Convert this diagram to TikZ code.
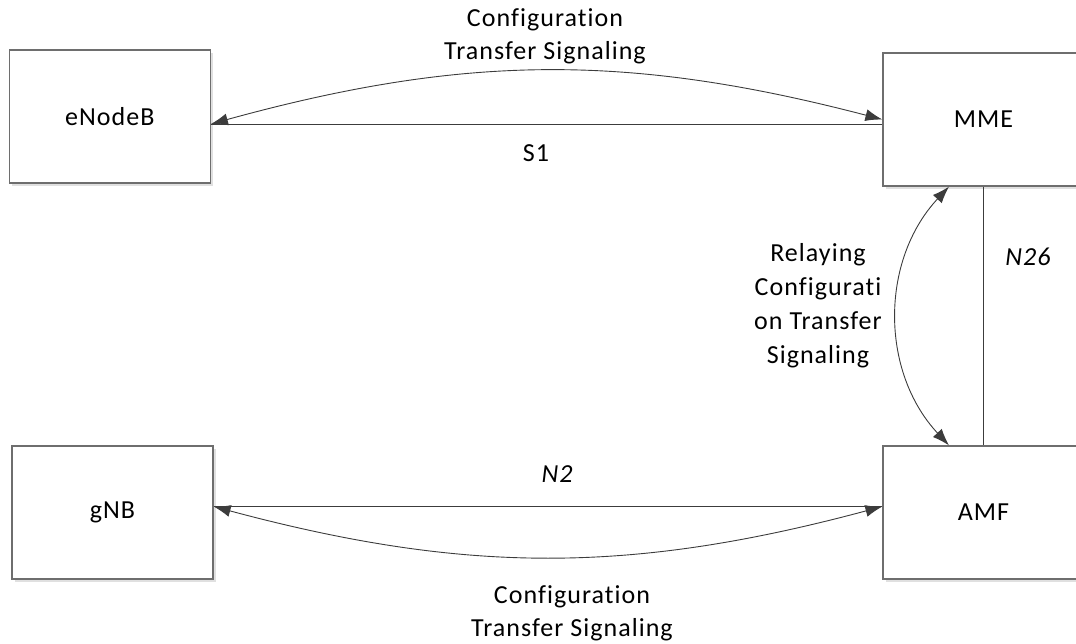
\documentclass[tikz,border=0pt]{standalone}
\usepackage{fontspec}
\setmainfont{Carlito}[LetterSpace=4, Ligatures=NoCommon]
\usepackage{xcolor}
\usepackage{tikz}
\usetikzlibrary{positioning,shadows,arrows.meta}
\definecolor{nfborder}{HTML}{6E6E6E}
\definecolor{nfline}{HTML}{3C3C3C}

\begin{document}
\begin{tikzpicture}[x=1pt, y=1pt,
  nfbox/.style={draw=nfborder, line width=1.2pt, fill=white, minimum width=201pt, minimum height=133pt, inner sep=0pt, font=\fontsize{26}{33}\selectfont, drop shadow={shadow xshift=3pt, shadow yshift=-3pt, fill=black!12, opacity=1}},
  iflink/.style={nfline, line width=0.9pt},
  sigarrow/.style={{Latex[length=17pt,width=12pt]}-{Latex[length=17pt,width=12pt]}, nfline, line width=0.9pt},
  iflabel/.style={font=\fontsize{26}{33}\selectfont\itshape, inner sep=0pt},
  siglabel/.style={font=\fontsize{26}{33}\selectfont, align=center, inner sep=0pt},
]
\clip (0,0) rectangle (1076,-644);
\node[nfbox] (enb) at (109.8,-116.5) {eNodeB};
\node[nfbox] (mme) at (983.5,-119.5) {MME};
\node[nfbox] (gnb) at (112.5,-512.5) {gNB};
\node[nfbox] (amf) at (983.5,-512.5) {AMF};
\coordinate (s1w) at ([yshift=-7.5pt]enb.east);
\coordinate (n2w) at ([yshift=6pt]gnb.east);
% interfaces
\draw[iflink] (s1w) -- (s1w -| mme.west);
\draw[iflink] (n2w) -- (n2w -| amf.west);
\draw[iflink] (mme.south) -- (amf.north);
% configuration transfer
\draw[sigarrow] (s1w) to[bend left=15] (mme.west);
\draw[sigarrow] (n2w) to[bend right=15] (n2w -| amf.west);
\draw[sigarrow] ([xshift=-34.5pt]mme.south) to[bend right=43] ([xshift=-34.5pt]amf.north);
\node[siglabel] (cfgtop) at (545,-36) {Configuration\\Transfer Signaling};
\node[siglabel] (cfgbot) at (572,-613) {Configuration\\Transfer Signaling};
\node[siglabel, font=\fontsize{26}{34}\selectfont] (relay) at (818,-306) {Relaying\\Configurati\\on Transfer\\Signaling};
\node[font=\fontsize{26}{33}\selectfont, inner sep=0pt] (s1) at (536,-153) {S1};
\node[iflabel] (n26) at (1028,-257) {N26};
\node[iflabel] (n2) at (557,-474) {N2};
\end{tikzpicture}
\end{document}
